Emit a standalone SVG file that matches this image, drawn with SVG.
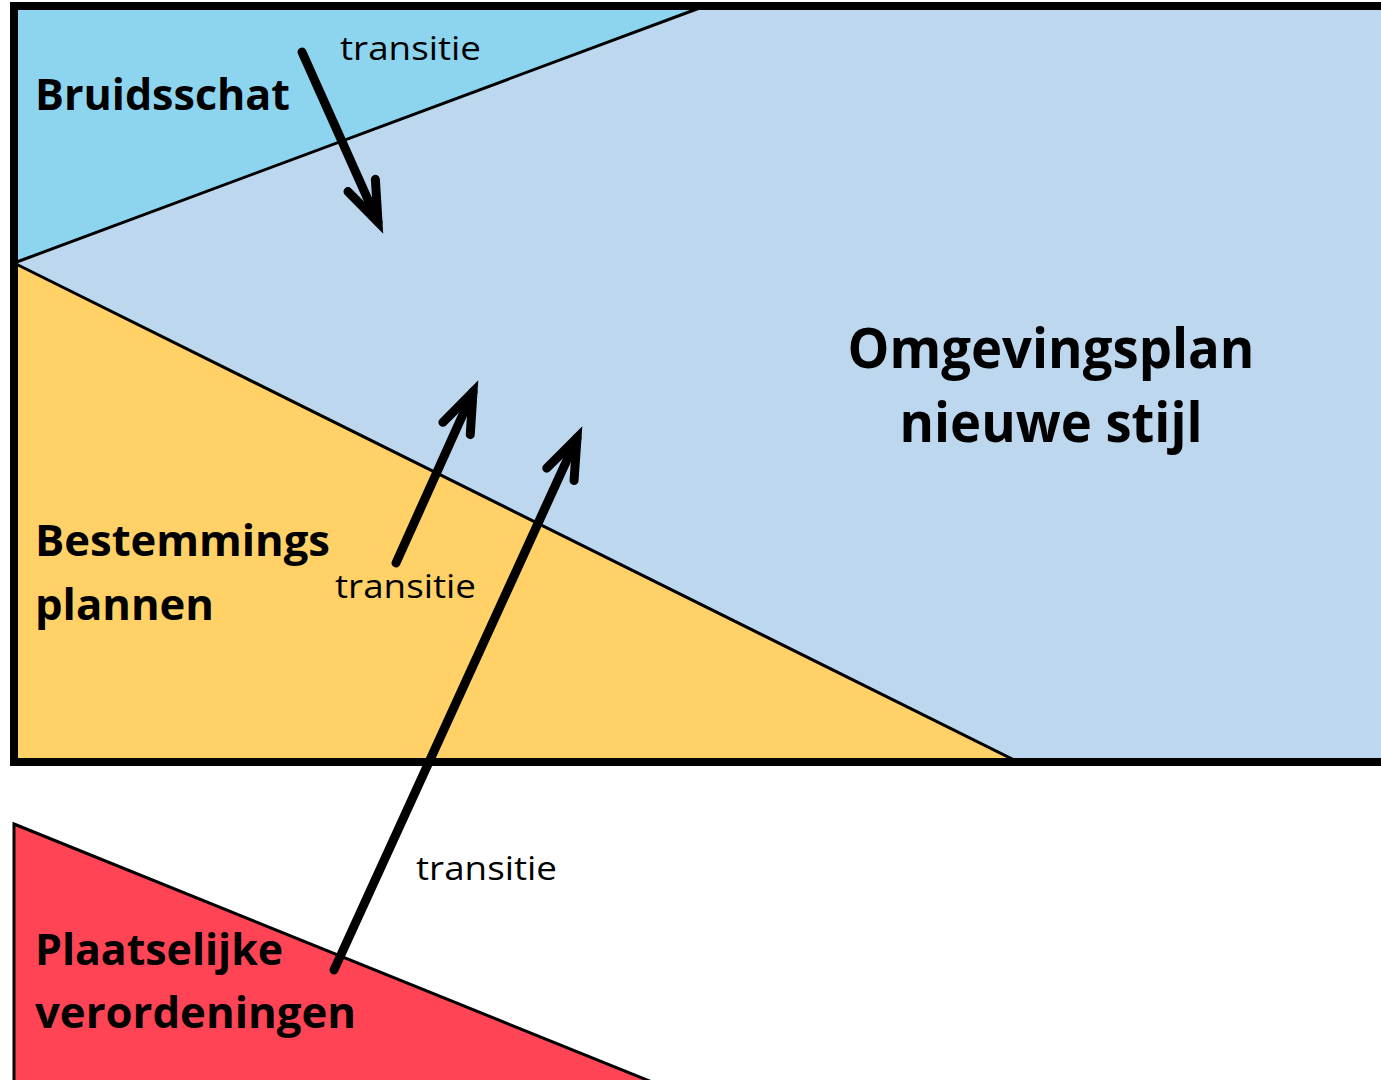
<svg xmlns="http://www.w3.org/2000/svg" width="1381" height="1080" viewBox="0 0 1381 1080">
<style>
.lbl{font-family:"Open Sans","Noto Sans",sans-serif;font-weight:bold;font-size:43px;fill:#000}
.big{font-family:"Open Sans","Noto Sans",sans-serif;font-weight:bold;font-size:56px;fill:#000}
.tr{font-family:"Open Sans","Noto Sans",sans-serif;font-size:33px;fill:#000}
.edge{stroke:#000;stroke-width:3}
.arrow{stroke:#000;stroke-width:9;fill:none;stroke-linecap:round}
</style>
<defs>
<marker id="head" markerUnits="userSpaceOnUse" markerWidth="60" markerHeight="60" viewBox="-50 -30 60 60" refX="0" refY="0" orient="auto" overflow="visible">
<path d="M -40,-15 L 0,0 L -40,15" fill="none" stroke="#000" stroke-width="9" stroke-linecap="round" stroke-linejoin="miter"/>
</marker>
</defs>
<rect width="1381" height="1080" fill="#fff"/>
<g id="omgevingsplan">
<rect x="14" y="6" width="1380" height="756" fill="#BDD7EE"/>
<text class="big" x="1051" y="368" text-anchor="middle" textLength="407" lengthAdjust="spacingAndGlyphs">Omgevingsplan</text>
<text class="big" x="1051" y="442" text-anchor="middle" textLength="303" lengthAdjust="spacingAndGlyphs">nieuwe stijl</text>
</g>
<g id="bruidsschat">
<polygon class="edge" points="14,6 705,6 14,263" fill="#8DD4EF"/>
<text class="lbl" x="35" y="110" textLength="255" lengthAdjust="spacingAndGlyphs">Bruidsschat</text>
</g>
<g id="bestemmingsplannen">
<polygon class="edge" points="14,263 1018,762 14,762" fill="#FFD166"/>
<text class="lbl" x="35" y="556" textLength="295" lengthAdjust="spacingAndGlyphs">Bestemmings</text>
<text class="lbl" x="35" y="620" textLength="179" lengthAdjust="spacingAndGlyphs">plannen</text>
</g>
<rect x="14" y="6" width="1380" height="756" fill="none" stroke="#000" stroke-width="8"/>
<g id="plaatselijke">
<polygon class="edge" points="14,824 652,1082 14,1082" fill="#FF4455"/>
<text class="lbl" x="35" y="965" textLength="248" lengthAdjust="spacingAndGlyphs">Plaatselijke</text>
<text class="lbl" x="35" y="1028" textLength="321" lengthAdjust="spacingAndGlyphs">verordeningen</text>
</g>
<g id="connectors">
<line class="arrow" x1="302" y1="52" x2="378" y2="222" marker-end="url(#head)"/>
<line class="arrow" x1="396" y1="563" x2="473" y2="392" marker-end="url(#head)"/>
<line class="arrow" x1="334" y1="970" x2="577" y2="438" marker-end="url(#head)"/>
<text class="tr" x="340" y="60" textLength="141" lengthAdjust="spacingAndGlyphs">transitie</text>
<text class="tr" x="335" y="598" textLength="141" lengthAdjust="spacingAndGlyphs">transitie</text>
<text class="tr" x="416" y="880" textLength="141" lengthAdjust="spacingAndGlyphs">transitie</text>
</g>
</svg>
